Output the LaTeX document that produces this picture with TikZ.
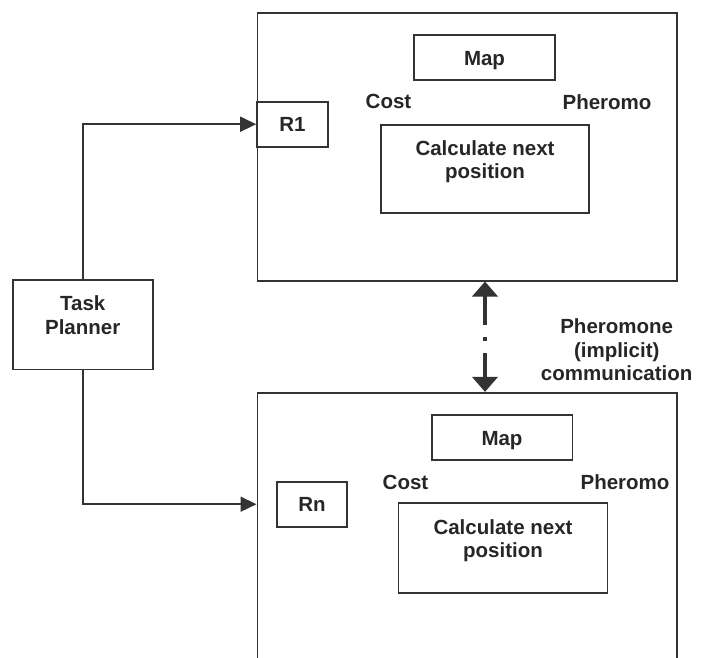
\documentclass[tikz,border=0pt]{standalone}
\usepackage{fontspec}
\setmainfont{Liberation Sans}
\usetikzlibrary{arrows.meta}
\begin{document}
\begin{tikzpicture}[x=1pt,y=-1pt,
  every node/.style={font=\fontsize{20.5}{23.5}\selectfont\bfseries, text=black!85, inner sep=0pt},
  box/.style={draw=black!80, line width=1.6pt, text height=15pt, text depth=0pt},
  bigbox/.style={draw=black!80, line width=1.6pt, minimum width=419.4pt},
  conn/.style={draw=black!80, line width=1.6pt, -{Triangle[length=16pt,width=15pt]}},
  comm/.style={draw=black!80, line width=4pt, {Triangle[length=15pt,width=25pt]}-{Triangle[length=15pt,width=25pt]},
    dash pattern=on 29.5pt off 12.3pt on 3.4pt off 12.3pt on 60pt}
]
\useasboundingbox (0,0) rectangle (711,657);

% robot 1
\node[bigbox, minimum height=268pt] (big1) at (467,146.7) {};
\node[box, minimum width=141pt, minimum height=45pt] (map1) at (484.5,57.5) {Map};
\node (cost1) at (388.5,101.7) {Cost};
\node (pher1) at (607,101.7) {Pheromo};
\node[box, minimum width=70.7pt, minimum height=45pt] (r1) at (292.35,124.2) {R1};
\node[box, minimum width=208pt, minimum height=88pt] (calc1) at (485,169) {};
\node[align=center, anchor=north] (calc1t) at (485,140.4) {Calculate next\\position};

% robot n
\node[bigbox, minimum height=300pt] (big2) at (467,542.7) {};
\node[box, minimum width=140.6pt, minimum height=45pt] (map2) at (502,437.5) {Map};
\node (cost2) at (405.5,482) {Cost};
\node (pher2) at (625,482) {Pheromo};
\node[box, minimum width=70.5pt, minimum height=45pt] (rn) at (312,504.2) {Rn};
\node[box, minimum width=209pt, minimum height=90pt] (calc2) at (503,548) {};
\node[align=center, anchor=north] (calc2t) at (503,519.4) {Calculate next\\position};

% task planner
\node[box, minimum width=140pt, minimum height=89.3pt] (task) at (82.7,324.65) {};
\node[align=center, anchor=north] (taskt) at (82.7,295.5) {Task\\Planner};

% communication label
\node[align=center, anchor=north] (commt) at (616.7,318.6) {Pheromone\\(implicit)\\communication};

% connectors
\coordinate (in2) at (big2.west |- rn.west);
\draw[conn] (task.north) |- (r1.west);
\draw[conn] (task.south) |- (in2);
\draw[comm] (big1.south -| calc1.center) -- (big2.north -| calc1.center);
\end{tikzpicture}
\end{document}
